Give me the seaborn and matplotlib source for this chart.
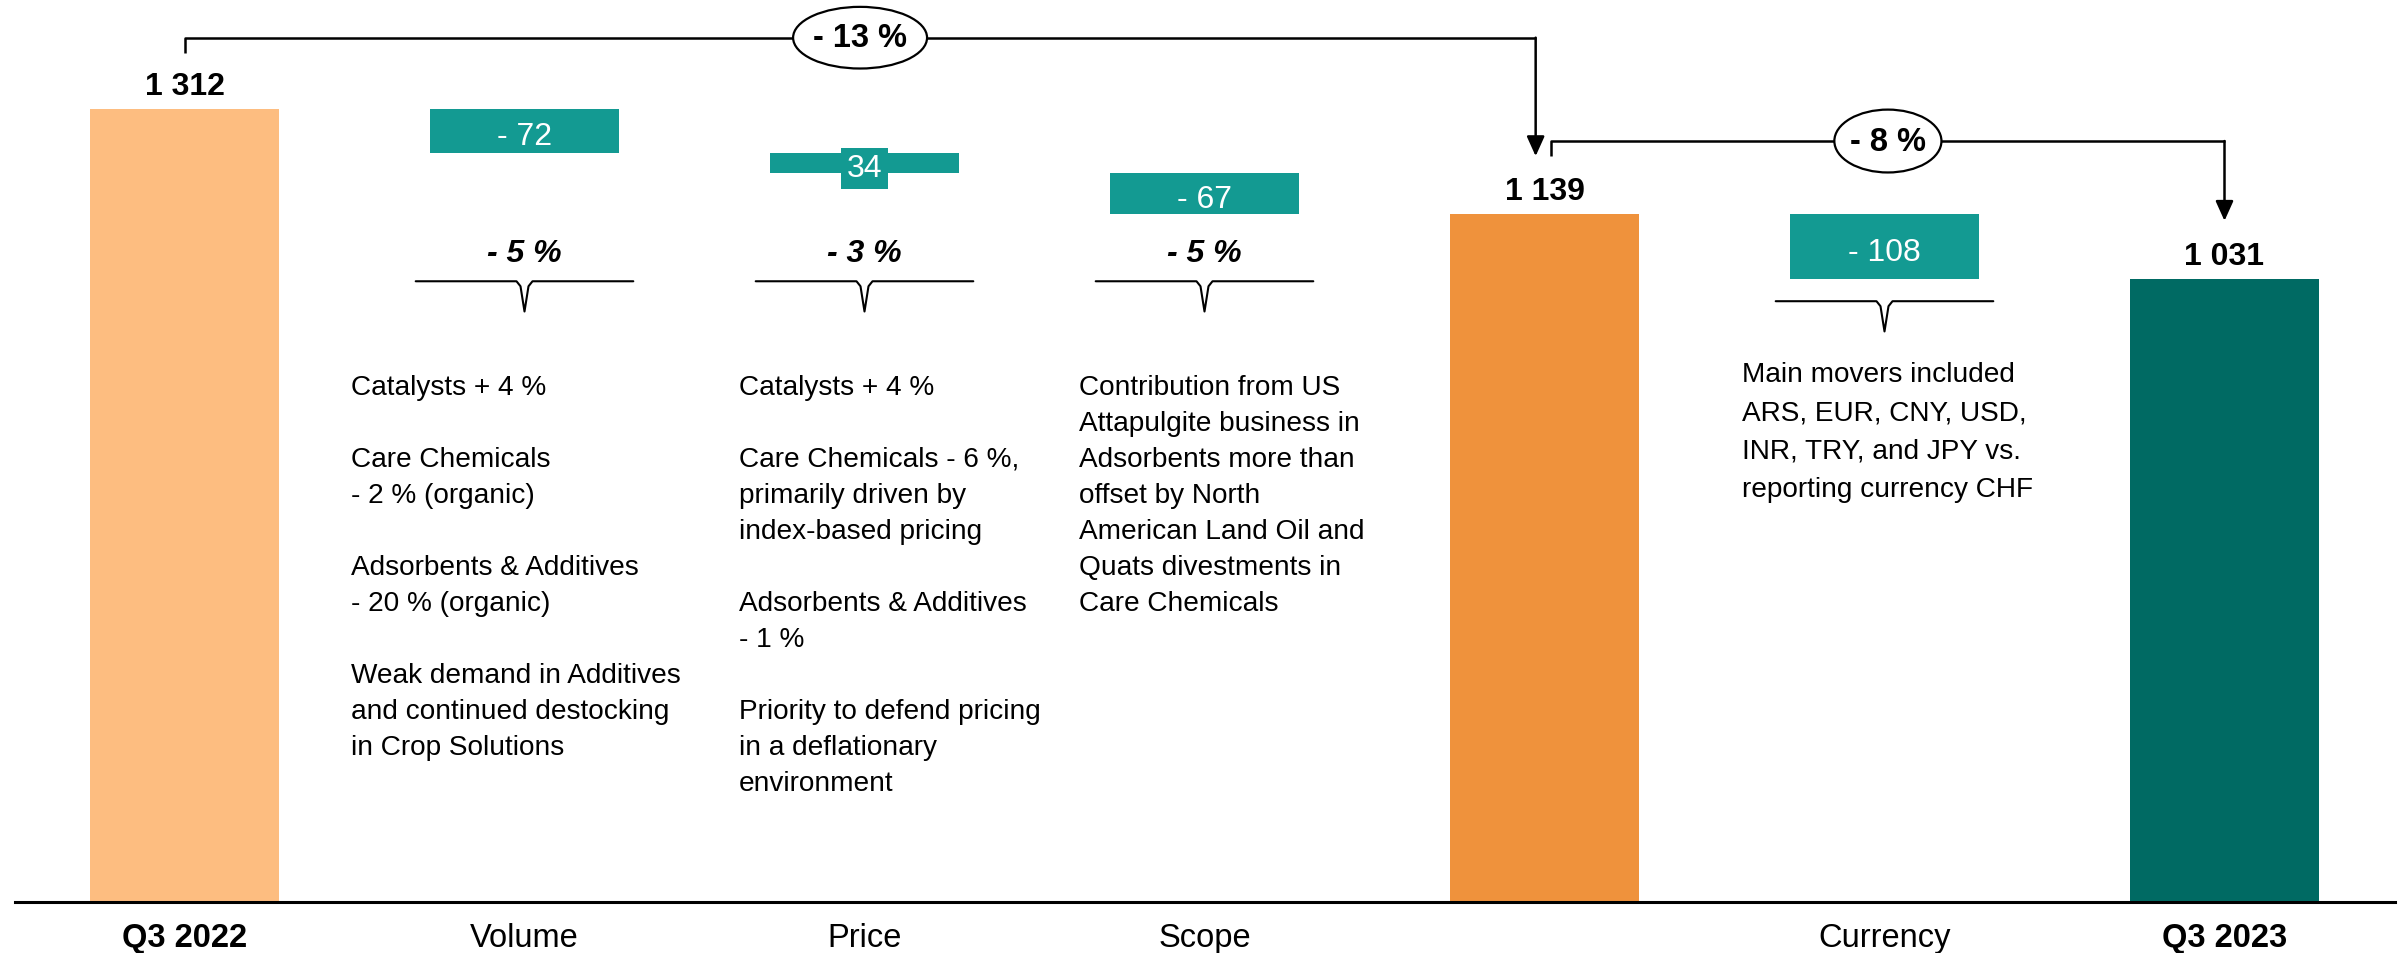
import matplotlib
matplotlib.use("Agg")
import matplotlib.pyplot as plt
from matplotlib.patches import Ellipse
import pandas as pd
import seaborn as sns

# ---- data -------------------------------------------------------------
steps = ["Q3 2022", "Volume", "Price", "Scope", "Subtotal", "Currency", "Q3 2023"]
tick_labels = ["Q3 2022", "Volume", "Price", "Scope", "", "Currency", "Q3 2023"]
bold_ticks = ["Q3 2022", "Q3 2023"]

total_steps = ["Q3 2022", "Subtotal", "Q3 2023"]
total_values = [1312, 1139, 1031]
total_colors = ["#FDBD80", "#EF923C", "#006A63"]

delta_steps = ["Volume", "Price", "Scope", "Currency"]
delta_values = [-72, -34, -67, -108]
delta_labels = ["- 72", "34", "- 67", "- 108"]
delta_color = "#139A92"

pct_steps = ["Volume", "Price", "Scope"]
pct_labels = ["- 5 %", "- 3 %", "- 5 %"]

bracket_labels = ["- 13 %", "- 8 %"]

note_steps = ["Volume", "Price", "Scope", "Currency"]
volume_note = ("Catalysts + 4 %\n\nCare Chemicals\n- 2 % (organic)\n\n"
               "Adsorbents & Additives\n- 20 % (organic)\n\n"
               "Weak demand in Additives\nand continued destocking\nin Crop Solutions")
price_note = ("Catalysts + 4 %\n\nCare Chemicals - 6 %,\nprimarily driven by\nindex-based pricing\n\n"
              "Adsorbents & Additives\n- 1 %\n\n"
              "Priority to defend pricing\nin a deflationary\nenvironment")
scope_note = ("Contribution from US\nAttapulgite business in\nAdsorbents more than\n"
              "offset by North\nAmerican Land Oil and\nQuats divestments in\nCare Chemicals")
currency_note = ("Main movers included\nARS, EUR, CNY, USD,\nINR, TRY, and JPY vs.\n"
                 "reporting currency CHF")
notes = [volume_note, price_note, scope_note, currency_note]

# ---- style ------------------------------------------------------------
sns.set_style("white")
plt.rcParams["font.family"] = ["Liberation Sans", "DejaVu Sans"]
plt.rcParams["text.color"] = "black"
plt.rcParams["xtick.color"] = "black"
plt.rcParams["xtick.labelcolor"] = "black"

W, H = 2402, 954
fig = plt.figure(figsize=(W / 100, H / 100), dpi=100)
ax = fig.add_axes([14.5 / W, 51 / H, 2380 / W, 903 / H])

YMAX = 1494
BAR_W = 0.556
pos = {s: i for i, s in enumerate(steps)}

# ---- total bars (seaborn) ---------------------------------------------
df_tot = pd.DataFrame({"step": total_steps, "value": total_values})
sns.barplot(data=df_tot, x="step", y="value", order=steps, hue="step",
            hue_order=total_steps, palette=dict(zip(total_steps, total_colors)),
            width=BAR_W, saturation=1, linewidth=0, legend=False, ax=ax)

for s, v in zip(total_steps, total_values):
    ax.annotate(f"{v:,}".replace(",", " "), (pos[s], v), xytext=(0, 16.5),
                textcoords="offset points", ha="center", va="center",
                fontsize=23, fontweight="bold", color="black")

# ---- floating change bars --------------------------------------------
totals = dict(zip(total_steps, total_values))
deltas = dict(zip(delta_steps, delta_values))
dlabels = dict(zip(delta_steps, delta_labels))
level = None
for s in steps:
    if s in totals:
        level = totals[s]
        continue
    d = deltas[s]
    bottom = level + min(d, 0)
    ax.bar(pos[s], abs(d), bottom=bottom, width=BAR_W, color=delta_color,
           linewidth=0, zorder=2)
    box = None
    if abs(d) < 50:
        box = dict(boxstyle="square,pad=0.18", facecolor=delta_color, edgecolor="none")
    ax.annotate(dlabels[s], (pos[s], bottom + abs(d) / 2), xytext=(0, -1.5),
                textcoords="offset points", color="white", fontsize=23,
                ha="center", va="center_baseline", bbox=box, zorder=3)
    level += d

# ---- percentage labels, braces and notes -------------------------------
PCT_Y = 1074
BRACE_Y = 1027
BRACE_HALF = 0.32
BRACE_DEPTH = 50
px_x = 7 / 2380
px_y = YMAX / 903


def brace(xc, y):
    xs = [xc - BRACE_HALF, xc - 8 * px_x, xc - 4 * px_x, xc, xc + 4 * px_x,
          xc + 8 * px_x, xc + BRACE_HALF]
    ys = [y, y, y - 5 * px_y, y - BRACE_DEPTH, y - 5 * px_y, y, y]
    ax.plot(xs, ys, color="black", lw=1.5, solid_joinstyle="round", zorder=3)


for s, lab in zip(pct_steps, pct_labels):
    ax.text(pos[s], PCT_Y, lab, fontsize=23, fontweight="bold", style="italic",
            ha="center", va="center")
    brace(pos[s], BRACE_Y)
brace(pos["Currency"], 994)

note_dx = [-0.51, -0.369, -0.369, -0.419]
note_top = [874, 874, 874, 895]
note_spacing = [1.5, 1.5, 1.5, 1.62]
for s, txt, dx, top, ls in zip(note_steps, notes, note_dx, note_top, note_spacing):
    ax.text(pos[s] + dx, top, txt, fontsize=20.2, ha="left", va="top",
            linespacing=ls)

# ---- growth brackets ---------------------------------------------------
LINE_KW = dict(color="black", lw=1.8, solid_capstyle="butt", zorder=3)
ARROW_KW = dict(arrowstyle="-|>,head_length=0.6,head_width=0.27", color="black",
                lw=1.8, shrinkA=0, shrinkB=0, mutation_scale=20)

x0 = pos["Q3 2022"]
x1 = pos["Subtotal"] - 0.026
y1 = 1430
ax.plot([x0, x0, x1], [1404, y1, y1], **LINE_KW)
ax.annotate("", xy=(x1, 1234), xytext=(x1, y1), arrowprops=ARROW_KW)

x2 = pos["Subtotal"] + 0.02
x3 = pos["Q3 2023"]
y2 = 1259
ax.plot([x2, x2, x3], [1234, y2, y2], **LINE_KW)
ax.annotate("", xy=(x3, 1127), xytext=(x3, y2), arrowprops=ARROW_KW)

for (xc, yc, w, h), lab in zip([(1.987, y1, 0.394, 102), (5.01, y2, 0.315, 104)],
                               bracket_labels):
    ax.add_patch(Ellipse((xc, yc), w, h, facecolor="white", edgecolor="black",
                         lw=1.6, zorder=4))
    ax.text(xc, yc, lab, fontsize=23.5, fontweight="bold", ha="center",
            va="center", zorder=5)

# ---- axes --------------------------------------------------------------
ax.set_xlim(-0.5, 6.5)
ax.set_ylim(0, YMAX)
ax.set_yticks([])
ax.set_xticks(range(len(steps)))
ax.set_xticklabels(tick_labels, fontsize=23.5, color="black")
for t in ax.get_xticklabels():
    if t.get_text() in bold_ticks:
        t.set_fontweight("bold")
ax.tick_params(axis="x", length=0, pad=14.5)
ax.set_xlabel("")
ax.set_ylabel("")
for side in ["top", "left", "right"]:
    ax.spines[side].set_visible(False)
ax.spines["bottom"].set_color("black")
ax.spines["bottom"].set_linewidth(2.2)

fig.savefig("out.png", dpi=100, facecolor="white")
